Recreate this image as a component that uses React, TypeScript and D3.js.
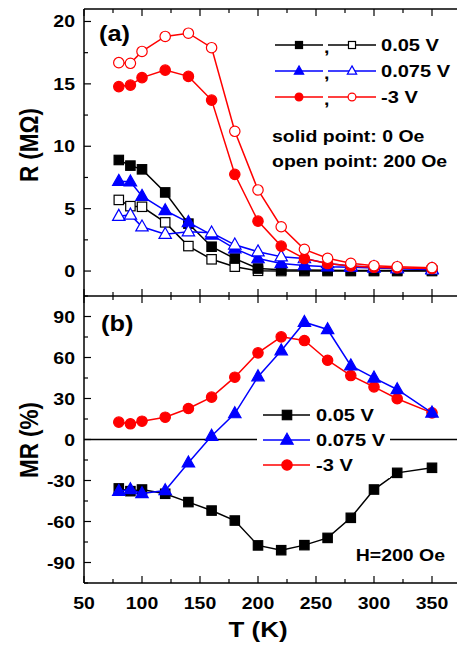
import React from "react";
import * as d3 from "d3";

// ---------- data ----------
const T = [80, 90, 100, 120, 140, 160, 180, 200, 220, 240, 260, 280, 300, 320, 350];

// top panel: R (MOhm)
const R_005_0Oe = [8.9, 8.45, 8.15, 6.3, 3.8, 1.95, 1.0, 0.2, 0.1, 0.08, 0.06, 0.05, 0.05, 0.05, 0.05];
const R_005_200Oe = [5.7, 5.2, 5.15, 3.9, 2.0, 0.94, 0.35, 0.02, 0.0, 0.0, 0.0, 0.0, 0.0, 0.0, 0.0];
const R_0075_0Oe = [7.2, 7.15, 6.0, 4.85, 3.9, 2.9, 1.8, 1.0, 0.6, 0.45, 0.35, 0.3, 0.25, 0.2, 0.15];
const R_0075_200Oe = [4.4, 4.5, 3.55, 2.95, 3.15, 3.07, 2.1, 1.55, 1.15, 1.0, 0.6, 0.4, 0.3, 0.2, 0.1];
const R_m3_0Oe = [14.78, 14.9, 15.5, 16.1, 15.6, 13.7, 7.75, 4.0, 2.0, 1.0, 0.6, 0.4, 0.3, 0.25, 0.2];
const R_m3_200Oe = [16.7, 16.65, 17.6, 18.8, 19.06, 17.9, 11.2, 6.5, 3.55, 1.74, 1.02, 0.62, 0.43, 0.35, 0.27];

// bottom panel: MR (%)
const MR_005 = [-35.8, -37.8, -36.6, -39.7, -45.8, -52, -59.3, -77.5, -81, -77.3, -72, -57.3, -36.6, -24.4, -20.7];
const MR_0075 = [-37.8, -36.6, -39.5, -37.3, -17, 2.5, 19, 46, 65, 85.8, 80.5, 54, 45.1, 36.6, 19.5];
const MR_m3 = [12.7, 11.5, 13.4, 16.3, 22.7, 31, 45.6, 63.4, 75.1, 72.4, 58, 46.8, 38.5, 29.8, 19.5];

const topTicks = [0, 5, 10, 15, 20];
const botTicks = [-90, -60, -30, 0, 30, 60, 90];
const xTicks = [50, 100, 150, 200, 250, 300, 350];

const legendTop = ["0.05 V", "0.075 V", "-3 V"];
const legendBot = ["0.05 V", "0.075 V", "-3 V"];

const BLACK = "#000000";
const BLUE = "#0000ff";
const RED = "#ff0000";
const FONT = "'Liberation Sans', Arial, Helvetica, sans-serif";
const SX = 1.18; // horizontal stretch of text in the reference

type Shape = "square" | "triangle" | "circle";

function Marker({ shape, x, y, color, filled, s = 1 }: { shape: Shape; x: number; y: number; color: string; filled: boolean; s?: number }) {
  const fill = filled ? color : "#ffffff";
  const sw = 1.2;
  if (shape === "square") {
    const h = 4.7 * s;
    return <rect x={x - h} y={y - h} width={2 * h} height={2 * h} fill={fill} stroke={color} strokeWidth={sw} />;
  }
  if (shape === "circle") {
    return <circle cx={x} cy={y} r={5.2 * s} fill={fill} stroke={color} strokeWidth={sw} />;
  }
  const p = `M${x},${y - 6.8 * s}L${x + 6.2 * s},${y + 4.2 * s}L${x - 6.2 * s},${y + 4.2 * s}Z`;
  return <path d={p} fill={fill} stroke={color} strokeWidth={sw} strokeLinejoin="miter" />;
}

function Txt({ x, y, size, anchor = "start", children, rotate = false }: any) {
  const tr = rotate ? `translate(${x},${y}) scale(${SX},1) rotate(-90)` : `translate(${x},${y}) scale(${SX},1)`;
  return (
    <text transform={tr} fontFamily={FONT} fontWeight="bold" fontSize={size} textAnchor={anchor} fill="#000">
      {children}
    </text>
  );
}

export default function App() {
  const W = 457, H = 650;
  const x = d3.scaleLinear().domain([50, 375]).range([84, 461]);
  const yTop = d3.scaleLinear().domain([-2, 21]).range([296, 9]);
  const yBot = d3.scaleLinear().domain([-105, 105]).range([583, 296]);

  const lineTop = (vals: number[]) =>
    d3.line<number>().x((_, i) => x(T[i])).y((v) => yTop(v))(vals) || "";
  const lineBot = (vals: number[]) =>
    d3.line<number>().x((_, i) => x(T[i])).y((v) => yBot(v))(vals) || "";

  const topSeries: { vals: number[]; color: string; shape: Shape; filled: boolean }[] = [
    { vals: R_005_200Oe, color: BLACK, shape: "square", filled: false },
    { vals: R_005_0Oe, color: BLACK, shape: "square", filled: true },
    { vals: R_0075_0Oe, color: BLUE, shape: "triangle", filled: true },
    { vals: R_0075_200Oe, color: BLUE, shape: "triangle", filled: false },
    { vals: R_m3_0Oe, color: RED, shape: "circle", filled: true },
    { vals: R_m3_200Oe, color: RED, shape: "circle", filled: false },
  ];
  const botSeries: { vals: number[]; color: string; shape: Shape }[] = [
    { vals: MR_005, color: BLACK, shape: "square" },
    { vals: MR_m3, color: RED, shape: "circle" },
    { vals: MR_0075, color: BLUE, shape: "triangle" },
  ];

  const x0 = 84, xR = 461;
  const yT0 = 9, yMid = 296, yB = 583;
  const majL = 7, minL = 4;

  const xMinor = d3.range(50, 376, 25);
  const topMinor = d3.range(-2.5, 21, 2.5).filter((v) => v >= -2 && v <= 21);
  const botMinor = d3.range(-105, 106, 15).filter((v) => v >= -105 && v <= 105);

  const legendMarkers: { shape: Shape; color: string }[] = [
    { shape: "square", color: BLACK },
    { shape: "triangle", color: BLUE },
    { shape: "circle", color: RED },
  ];
  const topRows = [45, 71, 97];
  const botRows = [415, 440, 465];

  return (
    <svg width={W} height={H} style={{ position: "absolute", left: 0, top: 0, background: "#fff" }}>
      <rect x={0} y={0} width={W} height={H} fill="#fff" />

      {/* zero line bottom panel */}
      <line x1={x0} x2={xR} y1={yBot(0)} y2={yBot(0)} stroke="#000" strokeWidth={1.5} />

      {/* top panel series */}
      {topSeries.map((s, k) => (
        <g key={"t" + k}>
          <path d={lineTop(s.vals)} fill="none" stroke={s.color} strokeWidth={1.5} />
          {s.vals.map((v, i) => (
            <Marker key={i} shape={s.shape} x={x(T[i])} y={yTop(v)} color={s.color} filled={s.filled} />
          ))}
        </g>
      ))}

      {/* bottom panel series */}
      {botSeries.map((s, k) => (
        <g key={"b" + k}>
          <path d={lineBot(s.vals)} fill="none" stroke={s.color} strokeWidth={1.5} />
          {s.vals.map((v, i) => (
            <Marker key={i} shape={s.shape} x={x(T[i])} y={yBot(v)} color={s.color} filled={true} />
          ))}
        </g>
      ))}

      {/* frame */}
      <line x1={x0} x2={x0} y1={yT0} y2={yB} stroke="#000" strokeWidth={1.5} />
      <line x1={x0} x2={xR} y1={yT0} y2={yT0} stroke="#000" strokeWidth={1.5} />
      <line x1={x0} x2={xR} y1={yMid} y2={yMid} stroke="#000" strokeWidth={1.5} />
      <line x1={x0} x2={xR} y1={yB} y2={yB} stroke="#000" strokeWidth={1.5} />

      {/* x ticks on top edge, divider (both sides), bottom edge */}
      {xMinor.map((v) => {
        const L = v % 50 === 0 ? majL : minL;
        const xx = x(v);
        return (
          <g key={"xt" + v} stroke="#000" strokeWidth={1.2}>
            <line x1={xx} x2={xx} y1={yT0} y2={yT0 + L} />
            <line x1={xx} x2={xx} y1={yMid - L} y2={yMid + L} />
            <line x1={xx} x2={xx} y1={yB} y2={yB - L} />
          </g>
        );
      })}
      {/* y ticks */}
      {topMinor.map((v) => {
        const L = Math.abs(v % 5) < 1e-6 ? majL : minL;
        return <line key={"yt" + v} x1={x0} x2={x0 + L} y1={yTop(v)} y2={yTop(v)} stroke="#000" strokeWidth={1.2} />;
      })}
      {botMinor.map((v) => {
        const L = Math.abs(v % 30) < 1e-6 ? majL : minL;
        return <line key={"yb" + v} x1={x0} x2={x0 + L} y1={yBot(v)} y2={yBot(v)} stroke="#000" strokeWidth={1.2} />;
      })}

      {/* tick labels */}
      {topTicks.map((v) => (
        <Txt key={"tl" + v} x={75} y={yTop(v) + 6} size={16.5} anchor="end">{v}</Txt>
      ))}
      {botTicks.map((v) => (
        <Txt key={"bl" + v} x={75} y={yBot(v) + 6} size={16.5} anchor="end">{v}</Txt>
      ))}
      {xTicks.map((v) => (
        <Txt key={"xl" + v} x={x(v)} y={609} size={16.5} anchor="middle">{v}</Txt>
      ))}

      {/* axis titles */}
      <Txt x={38} y={145} size={22.5} anchor="middle" rotate>R (MΩ)</Txt>
      <Txt x={38} y={440} size={22.5} anchor="middle" rotate>MR (%)</Txt>
      <Txt x={258} y={637} size={22} anchor="middle">T (K)</Txt>

      {/* panel labels */}
      <Txt x={99} y={41} size={21.5}>(a)</Txt>
      <Txt x={101} y={331} size={21.5}>(b)</Txt>

      {/* top legend */}
      {legendTop.map((lab, i) => {
        const yy = topRows[i];
        const m = legendMarkers[i];
        return (
          <g key={"lt" + i}>
            <line x1={275} x2={323} y1={yy} y2={yy} stroke={m.color} strokeWidth={1.5} />
            <Marker shape={m.shape} x={299} y={yy} color={m.color} filled={true} s={0.75} />
            <Txt x={324} y={yy + 8} size={16.5}>,</Txt>
            <line x1={328} x2={376} y1={yy} y2={yy} stroke={m.color} strokeWidth={1.5} />
            <Marker shape={m.shape} x={352} y={yy} color={m.color} filled={false} s={0.75} />
            <Txt x={381} y={yy + 6} size={17}>{lab}</Txt>
          </g>
        );
      })}
      <Txt x={272} y={142} size={16.5}>solid point: 0 Oe</Txt>
      <Txt x={272} y={167} size={16.5}>open point: 200 Oe</Txt>

      {/* bottom legend */}
      <rect x={257} y={402} width={133} height={76} fill="#fff" />
      {legendBot.map((lab, i) => {
        const yy = botRows[i];
        const m = legendMarkers[i];
        return (
          <g key={"lb" + i}>
            <line x1={263} x2={310} y1={yy} y2={yy} stroke={m.color} strokeWidth={1.5} />
            <Marker shape={m.shape} x={287} y={yy} color={m.color} filled={true} />
            <Txt x={316} y={yy + 6} size={17}>{lab}</Txt>
          </g>
        );
      })}
      <Txt x={445} y={561} size={16.5} anchor="end">H=200 Oe</Txt>
    </svg>
  );
}
